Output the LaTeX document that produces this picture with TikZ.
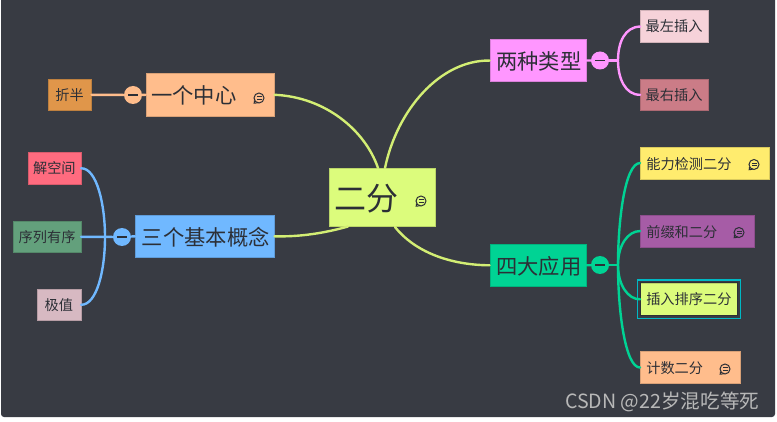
\documentclass[tikz,border=0pt]{standalone}
\usepackage{fontspec}
\setmainfont{Noto Sans CJK SC}
\definecolor{bg}{HTML}{383B43}
\definecolor{ink}{HTML}{2C2F36}
\definecolor{cRoot}{HTML}{DCFC7C}
\definecolor{cOrange}{HTML}{FFBD8C}
\definecolor{cBlue}{HTML}{70B8FF}
\definecolor{cPink}{HTML}{FF96FF}
\definecolor{cGreen}{HTML}{00D394}
\definecolor{cLine}{HTML}{D3EE74}
\definecolor{cHalf}{HTML}{E0964A}
\definecolor{cSpace}{HTML}{FF6B7F}
\definecolor{cOrder}{HTML}{63A07C}
\definecolor{cExt}{HTML}{D7B9C2}
\definecolor{cLeft}{HTML}{F6D2D9}
\definecolor{cRight}{HTML}{CB7C87}
\definecolor{cCheck}{HTML}{FFEC6E}
\definecolor{cPrefix}{HTML}{A65CA6}
\definecolor{cCyan}{HTML}{00B8C4}
\tikzset{
  x=1pt,y=-1pt,
  box/.style={draw=#1!85!black,line width=.5pt,fill=#1,text=ink,inner sep=0pt,anchor=north west},
  big/.style={font=\fontsize{21.3}{22}\selectfont},
  main/.style={font=\fontsize{32}{32}\selectfont},
  small/.style={font=\fontsize{14.2}{15}\selectfont},
  link/.style={line width=2.4pt,line cap=round},
  fold/.style={circle,fill=#1,minimum size=18pt,inner sep=0pt},
  dash bar/.style={draw=ink,line width=1.5pt},
  note/.pic={
    \draw[ink,line width=1pt] (0,0) circle (5pt);
    \draw[ink,line width=1pt] (-4.5,2.5) -- (-4.8,5.2) -- (-1.5,4.8);
    \draw[ink,line width=.8pt] (-2,-1.3) -- (2.5,-1.3) (-2,1.2) -- (2.5,1.2);
  }
}
\newcommand{\bx}[8]{% name, color, style, x1,y1,x2,y2, text
  \node[box=#2,#3,minimum width=#6pt-#4pt-.5pt,minimum height=#7pt-#5pt-.5pt] (#1) at (#4-.4,#5-.2) {\raisebox{-1pt}{#8}};}
\newcommand{\bxl}[9]{% name,color,style,x1,y1,x2,y2,text offset,text
  \node[box=#2,minimum width=#6pt-#4pt-.5pt,minimum height=#7pt-#5pt-.5pt] (#1) at (#4-.4,#5-.2) {};
  \node[#3,text=ink,inner sep=0pt,anchor=west] (#1t) at ([xshift=#8pt,yshift=-1pt]#1.west) {#9};}
\begin{document}
\begin{tikzpicture}
\useasboundingbox (0,0) rectangle (777,422);
\fill[white] (0,0) rectangle (777,422);
\fill[bg,rounded corners=3pt] (1,-3) rectangle (775,417);

% boxes
\bxl{root}{cRoot}{main}{329}{168}{436}{227}{6}{二分}
\bxl{one}{cOrange}{big}{146}{73.5}{275}{116.5}{5.5}{一个中心}
\bxl{three}{cBlue}{big}{135.5}{215}{275}{258}{6.5}{三个基本概念}
\bxl{two}{cPink}{big}{490}{39.5}{587}{82}{6.5}{两种类型}
\bxl{four}{cGreen}{big}{490}{244}{587}{287}{6.5}{四大应用}

\bx{half}{cHalf}{small}{48}{79}{92}{111}{折半}
\bx{space}{cSpace}{small}{28}{152.5}{81.5}{184.5}{解空间}
\bx{order}{cOrder}{small}{13.5}{221}{81.5}{253}{序列有序}
\bx{ext}{cExt}{small}{37}{289}{81.5}{321}{极值}
\bx{left}{cLeft}{small}{640.5}{10.5}{708.5}{43}{最左插入}
\bx{right}{cRight}{small}{640.5}{79}{708.5}{111}{最右插入}
\bxl{check}{cCheck}{small}{640.5}{147}{769.5}{179.5}{6}{能力检测二分}
\bxl{prefix}{cPrefix}{small}{640.5}{215}{755}{247.5}{6}{前缀和二分}
\bxl{count}{cOrange}{small}{640.5}{351.5}{741}{384}{6}{计数二分}
\draw[draw=cCyan,line width=1.5pt] (637.5,280) rectangle (740.5,318.5);
\bx{insert}{cRoot}{small}{640.5}{283}{738}{316}{插入排序二分}
\draw[ink,line width=1pt] (640.1,282.8) rectangle (737.6,315.8);

% note icons
\pic at (421,201) {note};
\pic at (259,98) {note};
\pic at (754,164.5) {note};
\pic at (739,232.5) {note};
\pic at (725,369) {note};

% root links
\coordinate (r1) at (378,168);
\coordinate (r2) at (385,168);
\coordinate (r3) at (348,226.5);
\coordinate (r4) at (395,227);
\draw[link,cLine] (one.east) .. controls (325,97) and (365,130) .. (r1);
\draw[link,cLine] (three.east) .. controls (300,237) and (325,233) .. (r3);
\draw[link,cLine] (two.west) .. controls (440,60) and (397,110) .. (r2);
\draw[link,cLine] (four.west) .. controls (450,265) and (415,252) .. (r4);

% fold buttons
\node[fold=cOrange] (f1) at (133,95) {};
\node[fold=cBlue] (f3) at (122,237) {};
\node[fold=cPink] (f2) at (600,60.5) {};
\node[fold=cGreen] (f4) at (600,265) {};
\foreach \f in {f1,f2,f3,f4} \draw[dash bar] ([xshift=-5pt]\f.center) -- ([xshift=5pt]\f.center);

% child links
\draw[link,cOrange] (half.east) -- (f1);
\draw[link,cOrange] (f1) -- (one.west);
\draw[link,cBlue] (three.west) -- (f3);
\draw[link,cBlue] (f3) -- (order.east);
\draw[link,cBlue] (space.east) .. controls (97,168) and (105,205) .. (105,237) .. controls (105,270) and (97,305) .. (ext.east);
\draw[link,cPink] (two.east) -- (f2);
\draw[link,cPink] (f2) -- (618,60.5);
\draw[link,cPink] (left.west) .. controls (625,27) and (618,42) .. (618,60.5) .. controls (618,78) and (625,95) .. (right.west);
\draw[link,cGreen] (four.east) -- (f4);
\draw[link,cGreen] (f4) -- (618,265);
\draw[link,cGreen] (check.west) .. controls (625,163) and (618,220) .. (618,265) .. controls (618,310) and (625,367.5) .. (count.west);
\draw[link,cGreen] (prefix.west) .. controls (628,231) and (618,245) .. (618,265) .. controls (618,285) and (628,299.5) .. (insert.west);

% watermark
\node[text=white!72!black,font=\fontsize{19.6}{20}\selectfont,inner sep=0pt,anchor=west] (mark) at (565,402) {CSDN @22岁混吃等死};
\end{tikzpicture}
\end{document}
